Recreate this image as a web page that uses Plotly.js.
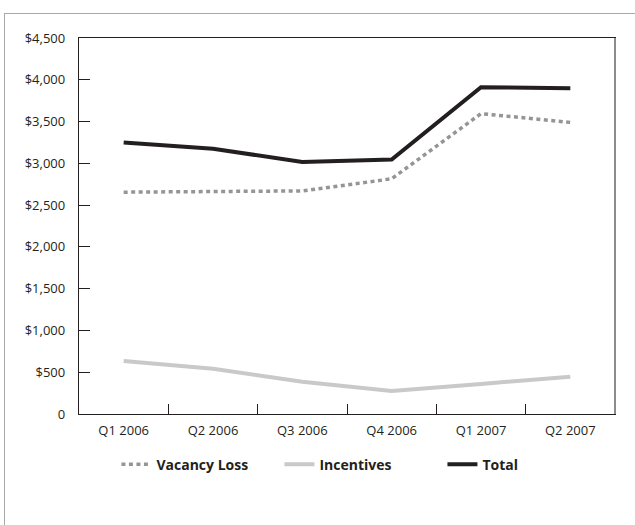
<!DOCTYPE html>
<html>
<head>
<meta charset="utf-8">
<script src="https://cdn.plot.ly/plotly-3.0.1.min.js"></script>
<style>
html,body{margin:0;padding:0;width:635px;height:525px;overflow:hidden;background:#fff;}
#frame{position:absolute;left:4px;top:13px;width:700px;height:600px;border-left:1.5px solid #a7a9ac;border-top:1.5px solid #a7a9ac;}
#chart{position:absolute;left:0;top:0;width:635px;height:525px;}
</style>
</head>
<body>
<div id="frame"></div>
<div id="chart"></div>
<script>
var categories = ["Q1 2006","Q2 2006","Q3 2006","Q4 2006","Q1 2007","Q2 2007"];
var vacancyLoss = [2655, 2665, 2670, 2815, 3595, 3490];
var incentives = [635, 542, 385, 275, 360, 445];
var total = [3250, 3175, 3015, 3045, 3910, 3900];
var yTickVals = [0,500,1000,1500,2000,2500,3000,3500,4000,4500];
var yTickText = ["0","$500","$1,000","$1,500","$2,000","$2,500","$3,000","$3,500","$4,000","$4,500"];

var font = "'Open Sans', 'Noto Sans', sans-serif";
var traces = [
  {x: categories, y: vacancyLoss, type: 'scatter', mode: 'lines', name: '<b>Vacancy Loss</b>',
   line: {color: '#939598', width: 3.5, dash: '4px,3.5px'}},
  {x: categories, y: incentives, type: 'scatter', mode: 'lines', name: '<b>Incentives</b>',
   line: {color: '#c8c9cb', width: 4}},
  {x: categories, y: total, type: 'scatter', mode: 'lines', name: '<b>Total</b>',
   line: {color: '#231f20', width: 4}}
];
var layout = {
  width: 635, height: 525,
  margin: {l: 79, r: 20, t: 38, b: 111},
  paper_bgcolor: 'rgba(0,0,0,0)', plot_bgcolor: 'rgba(0,0,0,0)',
  font: {family: font, color: '#231f20', size: 13},
  showlegend: true,
  legend: {orientation: 'h', x: 0.526, xanchor: 'center', y: -0.135, yanchor: 'middle',
           font: {family: font, size: 14, color: '#231f20'}, itemwidth: 30, tracegroupgap: 0,
           entrywidth: 118, entrywidthmode: 'pixels'},
  xaxis: {type: 'category', range: [-0.5, 5.5], showgrid: false, zeroline: false,
          showline: true, linecolor: '#231f20', linewidth: 1.2, mirror: true,
          ticks: 'inside', tickson: 'boundaries', ticklen: 10, tickcolor: '#231f20', tickwidth: 1,
          ticklabelstandoff: 4, tickfont: {size: 13}},
  yaxis: {range: [0, 4500], showgrid: false, zeroline: false,
          showline: true, linecolor: '#231f20', linewidth: 1.2, mirror: true,
          ticks: 'inside', ticklen: 11, tickcolor: '#231f20', tickwidth: 1,
          tickvals: yTickVals, ticktext: yTickText, ticklabelstandoff: 10, tickfont: {size: 13}},
  shapes: [{type: 'line', xref: 'paper', yref: 'paper', x0: 1, x1: 1, y0: 0, y1: 1,
            line: {color: '#8a8c8e', width: 2}}]
};
Plotly.newPlot('chart', traces, layout, {displayModeBar: false, staticPlot: true});
</script>
</body>
</html>
